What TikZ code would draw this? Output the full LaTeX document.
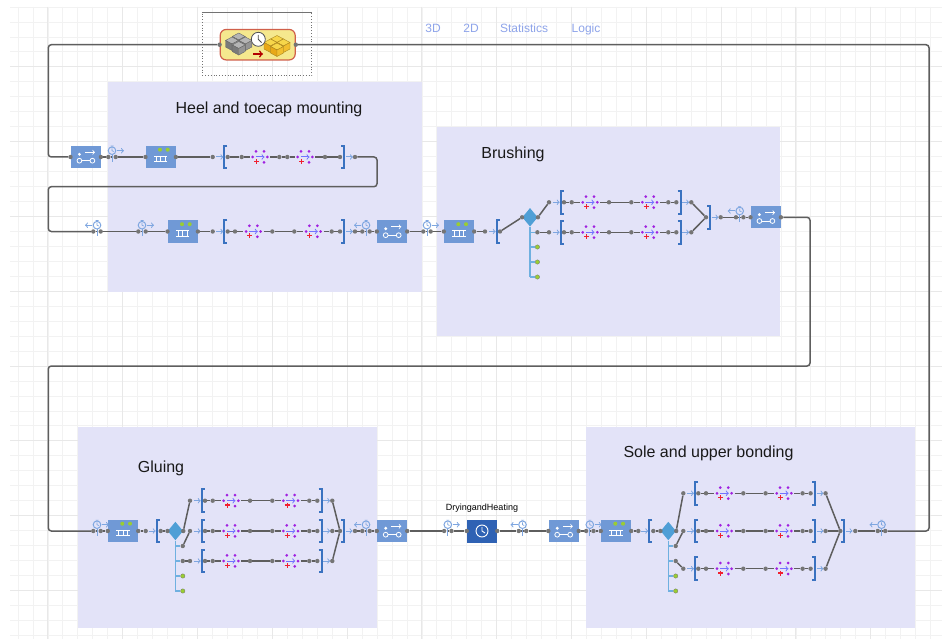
\documentclass[tikz,border=0pt]{standalone}
\usepackage{fontspec}
\setmainfont{Liberation Sans}
\usetikzlibrary{shapes.geometric}
\definecolor{regionblue}{HTML}{E3E3F8}
\definecolor{blockblue}{HTML}{7099D6}
\definecolor{delayblue}{HTML}{2F62B4}
\definecolor{iconblue}{HTML}{7EA6E0}
\definecolor{braceblue}{HTML}{3A72C0}
\definecolor{trunkblue}{HTML}{6FB0E0}
\definecolor{decblue}{HTML}{4F9FD6}
\definecolor{linkblue}{HTML}{8EA4EA}
\definecolor{wiregray}{HTML}{5E5E5E}
\definecolor{portgray}{HTML}{757575}
\definecolor{respurple}{HTML}{A020E0}
\definecolor{portgreen}{HTML}{9ACD32}
\definecolor{plusred}{HTML}{F02030}
\definecolor{sourcefill}{HTML}{F5E88E}
\definecolor{sourceedge}{HTML}{D0604A}
\definecolor{graytop}{HTML}{B5B5B5}
\definecolor{grayleft}{HTML}{7A7A7A}
\definecolor{grayright}{HTML}{949494}
\definecolor{goldtop}{HTML}{F7D64A}
\definecolor{goldleft}{HTML}{E8A818}
\definecolor{goldright}{HTML}{F2BE2E}
\tikzset{
  gridthin/.style={draw=black!5,line width=.8pt},
  gridbold/.style={draw=black!9,line width=.9pt},
  region/.style={fill=regionblue,draw=none,minimum width=#1,inner sep=0pt},
  wire/.style={draw=wiregray,line width=1.5pt,rounded corners=3pt},
  port/.style={circle,fill=portgray,inner sep=0pt,minimum size=4.4pt},
  greenport/.style={circle,fill=portgreen,draw=portgray,line width=.3pt,inner sep=0pt,minimum size=4.4pt},
  blockbox/.style={fill=blockblue,inner sep=0pt,minimum width=30pt,minimum height=22pt},
  icon/.style={draw=iconblue,line width=1pt},
  brace/.style={draw=braceblue,line width=1.9pt},
  trunk/.style={draw=trunkblue,line width=1.2pt},
  decide/.style={diamond,fill=decblue,inner sep=0pt,minimum width=15.4pt,minimum height=18.6pt},
  title/.style={font=\fontsize{16}{18}\selectfont,text=black!90},
  link/.style={font=\fontsize{12}{14}\selectfont,text=linkblue,text height=9pt,text depth=3pt},
}
\newcommand{\timeicon}[4]{%
  \node[port] (#1a) at (#2-3.7,#3) {};
  \node[port] (#1b) at (#2+3.7,#3) {};
  \draw[wire] (#1a) -- (#1b);
  \begin{scope}[shift={(#2,#3)}]
    \draw[icon] (0,-2.5) -- (0,4.8);
    \draw[icon] (0,-6.3) circle (3.8pt);
    \draw[icon,line width=.7pt] (-1.5,-10.9) -- (1.5,-10.9) (0,-8.6) -- (0,-6.3) -- (1.8,-5.5);
    \draw[icon,->] (#4*5,-6.3) -- (#4*12,-6.3);
  \end{scope}}
\newcommand{\convbox}[3]{%
  \node[blockbox] (#1) at (#2,#3) {};
  \node[port] (#1l) at (#1.west) {};
  \node[port] (#1r) at (#1.east) {};
  \begin{scope}[shift={(#2,#3)},white,line width=.8pt]
    \draw (-6.3,3.7) circle (2.4pt) (6.7,3.7) circle (2.4pt);
    \draw (-3.9,3.7) -- (4.3,3.7);
    \fill (-6.3,-2.7) circle (1.6pt);
    \draw[->] (-.7,-4.7) -- (9.3,-4.7);
  \end{scope}}
\newcommand{\queuebox}[3]{%
  \node[blockbox] (#1) at (#2,#3) {};
  \node[port] (#1l) at (#1.west) {};
  \node[port] (#1r) at (#1.east) {};
  \begin{scope}[shift={(#2,#3)},white,line width=.9pt]
    \draw (-6.7,-1) -- (6.7,-1) (-6.7,4.7) -- (6.7,4.7);
    \draw (-4.5,-1) -- (-4.5,4.7) (0,-1) -- (0,4.7) (4.5,-1) -- (4.5,4.7);
    \fill[portgreen] (-.7,-7.3) circle (2pt) (7,-7.3) circle (2pt);
  \end{scope}}
\newcommand{\openbr}[2]{%
  \draw[brace] (#1+3,#2-11.3) -- (#1,#2-11.3) -- (#1,#2+11.3) -- (#1+3,#2+11.3);
  \draw[icon,->] (#1-8,#2) -- (#1-1,#2);}
\newcommand{\closebr}[2]{%
  \draw[brace] (#1-3,#2-11.3) -- (#1,#2-11.3) -- (#1,#2+11.3) -- (#1-3,#2+11.3);
  \draw[icon,->] (#1+1.5,#2) -- (#1+8.5,#2);}
\newcommand{\resicon}[2]{%
  \node[circle,inner sep=0pt,minimum size=20pt] (#1) at (#2,0) {};
  \fill[respurple] (#2-7.3,0) circle (1.5pt) (#2-4,-5.7) circle (1.5pt) (#2+4,-5.7) circle (1.5pt)
    (#2+7.3,0) circle (1.5pt) (#2+4,5.3) circle (1.5pt);
  \draw[draw=blue!55!white,line width=1pt,->] (#2-4.5,0) -- (#2+4.5,0);
  \draw[plusred,line width=1.3pt] (#2-6,4.3) -- (#2-1,4.3) (#2-3.5,1.8) -- (#2-3.5,6.8);}
% name, x, y, then first resource, two middle ports, second resource, last port
\newcommand{\branch}[8]{%
  \begin{scope}[shift={(#2,#3)}]
    \node[port] (#1s) at (0,0) {};
    \openbr{11.7}{0}
    \node[port] (#1p) at (15,0) {};
    \node[port] (#1q) at (#4-18.3,0) {};
    \resicon{#1u}{#4}
    \node[port] (#1v) at (#5,0) {};
    \node[port] (#1w) at (#6,0) {};
    \resicon{#1x}{#7}
    \node[port] (#1y) at (#8,0) {};
    \node[port] (#1z) at (127.3,0) {};
    \closebr{131.7}{0}
    \node[port] (#1e) at (142.3,0) {};
    \draw[wire] (#1p) -- (#1q) -- (#1u) -- (#1v) -- (#1w) -- (#1x) -- (#1y) -- (#1z);
  \end{scope}}
\newcommand{\outlet}[4]{%
  \coordinate (#1t) at (#2,#3);
  \node[#4] (#1) at (#2+7.4,#3) {};
  \draw[trunk] (#1t) -- (#1);}
\newcommand{\parcel}[5]{%
  \filldraw[fill=#3,draw=#5!70!black,line width=.4pt] (#1,#2-3.5) -- (#1+6.5,#2) -- (#1,#2+3.5) -- (#1-6.5,#2) -- cycle;
  \filldraw[fill=#4,draw=#5!70!black,line width=.4pt] (#1-6.5,#2) -- (#1,#2+3.5) -- (#1,#2+10) -- (#1-6.5,#2+6.5) -- cycle;
  \filldraw[fill=#5,draw=#5!70!black,line width=.4pt] (#1+6.5,#2) -- (#1,#2+3.5) -- (#1,#2+10) -- (#1+6.5,#2+6.5) -- cycle;}
\begin{document}
\begin{tikzpicture}[x=1pt,y=-1pt,>=to]
\useasboundingbox (0,0) rectangle (942,639);
\fill[white] (0,0) rectangle (942,639);
% grid
\foreach \k in {0,...,42} \draw[gridthin] (10,7+\k*14.96) -- (942,7+\k*14.96);
\foreach \k in {0,...,61} \draw[gridthin] (18+\k*14.96,7) -- (18+\k*14.96,639);
\foreach \k in {4,9,...,39} \draw[gridbold] (10,7+\k*14.96) -- (942,7+\k*14.96);
\foreach \k in {2,7,...,57} \draw[gridbold] (18+\k*14.96,7) -- (18+\k*14.96,639);
% regions
\node[region=314pt,minimum height=210pt] (heel) at (265,187) {};
\node[region=343pt,minimum height=209pt] (brush) at (608.5,231.5) {};
\node[region=299pt,minimum height=201pt] (glue) at (227.5,527.5) {};
\node[region=329pt,minimum height=201pt] (sole) at (750.5,527.5) {};
\node[title] (heeltext) at (269,109) {Heel and toecap mounting};
\node[title] (brushtext) at (513,154) {Brushing};
\node[title] (gluetext) at (161,468) {Gluing};
\node[title] (soletext) at (708.5,453) {Sole and upper bonding};
\node[link] (link3d) at (433,30) {3D};
\node[link] (link2d) at (471,30) {2D};
\node[link] (linkstat) at (524,30) {Statistics};
\node[link] (linklogic) at (586,30) {Logic};
\node[font=\fontsize{9}{11}\selectfont] (drytext) at (482,508) {DryingandHeating};
% source block
\node[draw=black!55,dotted,line width=.8pt,inner sep=0pt,minimum width=109.4pt,minimum height=63pt] (frame) at (257,44.2) {};
\draw[black!55,line width=.8pt] (frame.north west) -- (frame.north east);
\node[fill=sourcefill,draw=sourceedge,line width=1.2pt,rounded corners=6pt,inner sep=0pt,minimum width=75pt,minimum height=30.5pt] (source) at (257.7,44.7) {};
\node[port] (sourcel) at (source.west) {};
\node[port] (sourcer) at (source.east) {};
\parcel{238.7}{36.5}{graytop}{grayleft}{grayright}
\parcel{232}{40.5}{graytop}{grayleft}{grayright}
\parcel{245.4}{40.5}{graytop}{grayleft}{grayright}
\parcel{238.7}{45}{graytop}{grayleft}{grayright}
\parcel{277}{39}{goldtop}{goldleft}{goldright}
\parcel{270.5}{42.5}{goldtop}{goldleft}{goldright}
\parcel{283.5}{42.5}{goldtop}{goldleft}{goldright}
\parcel{277}{46.5}{goldtop}{goldleft}{goldright}
\draw[white,fill=white] (258.3,39.3) circle (7pt);
\draw[black!70,line width=.8pt] (258.3,39.3) circle (7pt);
\draw[black!70,line width=.8pt] (258.3,35) -- (258.3,39.3) -- (261.5,42.5);
\draw[red!70!black,line width=1.5pt,->] (253,54) -- (263,54);
% first row
\convbox{conv1}{85.7}{157}
\timeicon{time1}{112}{157}{1}
\queuebox{queue1}{160.7}{157}
\branch{a}{212.7}{157}{47.3}{66.6}{74.6}{92.3}{112.3}
\coordinate (c1) at (48.3,44.7);
\coordinate (c2) at (48.3,157);
\coordinate (c3) at (377,157);
\coordinate (c4) at (377,186.7);
\coordinate (c5) at (48.3,186.7);
\coordinate (c6) at (48.3,231.5);
\draw[wire] (sourcel) -- (c1) -- (c2) -- (conv1l);
\draw[wire] (conv1r) -- (time1a);
\draw[wire] (time1b) -- (queue1l);
\draw[wire] (queue1r) -- (as);
% second row
\timeicon{time2}{97}{231.5}{-1}
\timeicon{time3}{142}{231.5}{1}
\queuebox{queue2}{182.7}{231.5}
\branch{b}{212.7}{231.5}{40.6}{59.6}{81.6}{100.6}{119}
\timeicon{time4}{366}{231.5}{-1}
\convbox{conv2}{392}{231.5}
\timeicon{time5}{427}{231.5}{1}
\queuebox{queue3}{459}{231.5}
\draw[wire] (ae) -- (c3) -- (c4) -- (c5) -- (c6) -- (time2a);
\draw[wire] (time2b) -- (time3a);
\draw[wire] (time3b) -- (queue2l);
\draw[wire] (queue2r) -- (bs);
\draw[wire] (be) -- (time4a);
\draw[wire] (time4b) -- (conv2l);
\draw[wire] (conv2r) -- (time5a);
\draw[wire] (time5b) -- (queue3l);
% brushing
\node[port] (in1) at (485,231.5) {};
\openbr{496.7}{231.5}
\node[port] (in1b) at (500,231.5) {};
\node[decide] (dec1) at (530,217.3) {};
\node[port] (dec1l) at (dec1.west) {};
\node[port] (dec1r) at (dec1.east) {};
\coordinate (dec1t) at (530,277);
\draw[trunk] (dec1) -- (dec1t);
\outlet{o1a}{530}{232.3}{port}
\outlet{o1b}{530}{247}{greenport}
\outlet{o1c}{530}{262}{greenport}
\outlet{o1d}{530}{277}{greenport}
\branch{c}{549}{202.3}{41}{60}{82.3}{100.7}{119.3}
\branch{d}{549}{232.3}{41}{60}{82.3}{100.7}{119.3}
\node[port] (merge1) at (706,217.3) {};
\closebr{710}{217.3}
\node[port] (out1) at (720.7,217.3) {};
\timeicon{time6}{739.7}{217.3}{-1}
\convbox{conv3}{765.7}{217.3}
\draw[wire] (queue3r) -- (in1);
\draw[wire] (in1b) -- (dec1l);
\draw[wire] (dec1r) -- (cs);
\draw[wire] (o1a) -- (ds);
\draw[wire] (ce) -- (merge1);
\draw[wire] (de) -- (merge1);
\draw[wire] (out1) -- (time6a);
\draw[wire] (time6b) -- (conv3l);
\coordinate (c7) at (810,217.3);
\coordinate (c8) at (810,366);
\coordinate (c9) at (48.3,366);
\coordinate (c10) at (48.3,531);
% gluing
\timeicon{time7}{97}{531}{1}
\queuebox{queue4}{123}{531}
\node[port] (in2) at (145.7,531) {};
\openbr{156.7}{531}
\node[port] (in2b) at (160.7,531) {};
\node[decide] (dec2) at (175.4,531) {};
\node[port] (dec2l) at (dec2.west) {};
\node[port] (dec2r) at (dec2.east) {};
\coordinate (dec2t) at (175.4,591);
\draw[trunk] (dec2) -- (dec2t);
\outlet{o2a}{175.4}{546}{port}
\outlet{o2b}{175.4}{561}{port}
\outlet{o2c}{175.4}{576}{greenport}
\outlet{o2d}{175.4}{591}{greenport}
\branch{e}{190}{500.7}{41}{60}{82.3}{100.7}{119.3}
\branch{f}{190}{531}{41}{60}{82.3}{100.7}{119.3}
\branch{g}{190}{561}{41}{60}{82.3}{100.7}{119.3}
\node[port] (merge2) at (340,531) {};
\closebr{344}{531}
\node[port] (out2) at (355,531) {};
\timeicon{time8}{366}{531}{-1}
\convbox{conv4}{392}{531}
\draw[wire] (conv3r) -- (c7) -- (c8) -- (c9) -- (c10) -- (time7a);
\draw[wire] (time7b) -- (queue4l);
\draw[wire] (queue4r) -- (in2);
\draw[wire] (in2b) -- (dec2l);
\draw[wire] (dec2r) -- (es);
\draw[wire] (o2a) -- (fs);
\draw[wire] (o2b) -- (gs);
\draw[wire] (ee) -- (merge2);
\draw[wire] (fe) -- (merge2);
\draw[wire] (ge) -- (merge2);
\draw[wire] (out2) -- (time8a);
\draw[wire] (time8b) -- (conv4l);
% drying
\timeicon{time9}{447.8}{531}{1}
\node[fill=delayblue,inner sep=0pt,minimum width=30pt,minimum height=23pt] (delay) at (482,531) {};
\node[port] (delayl) at (delay.west) {};
\node[port] (delayr) at (delay.east) {};
\draw[white,line width=.9pt] (482,531) circle (6pt);
\draw[white,line width=.9pt] (482,527) -- (482,531) -- (485,533);
\timeicon{time10}{522.5}{531}{-1}
\convbox{conv5}{563.5}{531}
\draw[wire] (conv4r) -- (time9a);
\draw[wire] (time9b) -- (delayl);
\draw[wire] (delayr) -- (time10a);
\draw[wire] (time10b) -- (conv5l);
% sole and upper
\timeicon{time11}{589.8}{531}{1}
\queuebox{queue5}{616}{531}
\node[port] (in3) at (638.3,531) {};
\openbr{649.3}{531}
\node[port] (in3b) at (653.3,531) {};
\node[decide] (dec3) at (668.3,531) {};
\node[port] (dec3l) at (dec3.west) {};
\node[port] (dec3r) at (dec3.east) {};
\coordinate (dec3t) at (668.3,591);
\draw[trunk] (dec3) -- (dec3t);
\outlet{o3a}{668.3}{546}{port}
\outlet{o3b}{668.3}{561}{port}
\outlet{o3c}{668.3}{576}{greenport}
\outlet{o3d}{668.3}{591}{greenport}
\branch{h}{683.3}{493.3}{41}{60}{82.3}{100.7}{119.3}
\branch{i}{683.3}{531}{41}{60}{82.3}{100.7}{119.3}
\branch{j}{683.3}{568.7}{41}{60}{82.3}{100.7}{119.3}
\node[port] (merge3) at (840.3,531) {};
\closebr{844}{531}
\node[port] (out3) at (855.3,531) {};
\timeicon{time12}{881.5}{531}{-1}
\coordinate (c11) at (929,531);
\coordinate (c12) at (929,44.7);
\draw[wire] (conv5r) -- (time11a);
\draw[wire] (time11b) -- (queue5l);
\draw[wire] (queue5r) -- (in3);
\draw[wire] (in3b) -- (dec3l);
\draw[wire] (dec3r) -- (hs);
\draw[wire] (o3a) -- (is);
\draw[wire] (o3b) -- (js);
\draw[wire] (he) -- (merge3);
\draw[wire] (ie) -- (merge3);
\draw[wire] (je) -- (merge3);
\draw[wire] (out3) -- (time12a);
\draw[wire] (time12b) -- (c11) -- (c12) -- (sourcer);
\end{tikzpicture}
\end{document}
